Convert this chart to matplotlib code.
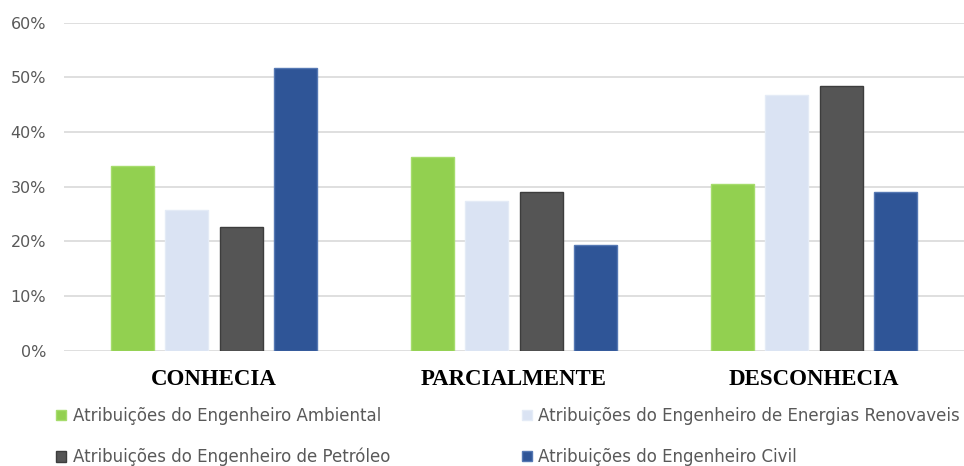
import numpy as np
import matplotlib
matplotlib.use("Agg")
import matplotlib.pyplot as plt
from matplotlib.ticker import FuncFormatter

categorias = ["CONHECIA", "PARCIALMENTE", "DESCONHECIA"]
series = [
    "Atribuições do Engenheiro Ambiental",
    "Atribuições do Engenheiro de Energias Renovaveis",
    "Atribuições do Engenheiro de Petróleo",
    "Atribuições do Engenheiro Civil",
]
ambiental = [33.8, 35.4, 30.5]
renovaveis = [25.7, 27.4, 46.8]
petroleo = [22.6, 29.0, 48.4]
civil = [51.7, 19.3, 29.0]
valores = [ambiental, renovaveis, petroleo, civil]

cores = ["#92d050", "#dae3f3", "#555555", "#2f5597"]
bordas = ["#a6dc6c", "#e4ebf6", "#3d3d3d", "#5578b3"]

fig = plt.figure(figsize=(9.64, 4.66), dpi=100)
ax = fig.add_axes([64 / 964, 1 - 350.7 / 466, 1 - 64 / 964, (350.7 - 22.7) / 466])

x = np.arange(len(categorias))
passo = 0.182
largura = 0.143
barras = []
for i, (v, c, b) in enumerate(zip(valores, cores, bordas)):
    h = ax.bar(x + (i - 1.5) * passo, v, largura, color=c, edgecolor=b,
               linewidth=1, label=series[i], zorder=3)
    barras.append(h)

ax.set_xlim(-0.5, 2.5)
ax.set_ylim(0, 60)
ax.set_yticks(range(0, 61, 10))
ax.yaxis.set_major_formatter(FuncFormatter(lambda v, p: f"{v:.0f}%"))
ax.grid(axis="y", color="#d9d9d9", linewidth=1.2, zorder=0)
for s in ["top", "right", "left", "bottom"]:
    ax.spines[s].set_visible(False)
ax.tick_params(axis="y", length=0, pad=13, labelsize=11.5, labelcolor="#595959")
ax.tick_params(axis="x", length=0, pad=13)
ax.set_xticks(x)
ax.set_xticklabels(categorias, fontfamily="Liberation Serif", fontweight="bold",
                   fontsize=16.5, color="black")

# legenda em duas colunas, preenchida por linha
ordem = [0, 2, 1, 3]
leg = fig.legend([barras[i] for i in ordem], [series[i] for i in ordem],
                 ncol=2, loc="upper left", bbox_to_anchor=(41 / 964, 1 - 392 / 466),
                 frameon=False, handlelength=0.6, handleheight=0.6, handletextpad=0.4,
                 columnspacing=7.9, labelspacing=1.38,
                 prop={"family": "DejaVu Sans", "size": 12})
for t in leg.get_texts():
    t.set_color("#595959")

fig.savefig("out.png", dpi=100)
